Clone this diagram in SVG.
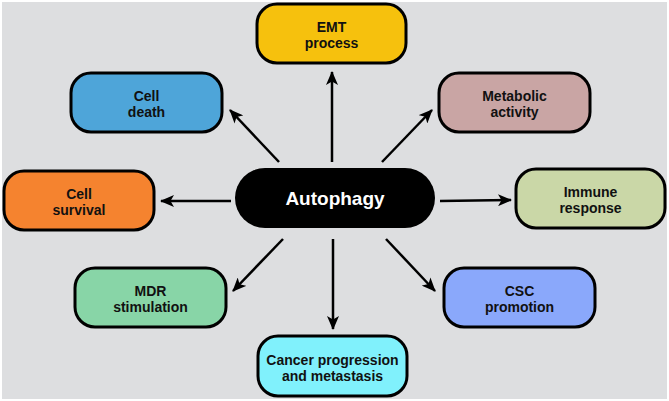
<svg xmlns="http://www.w3.org/2000/svg" width="669" height="401" viewBox="0 0 669 401">
<defs>
<style>
.node rect{stroke:#000;stroke-width:3}
.lbl{font-family:"Liberation Sans",Arial,sans-serif;font-weight:bold;font-size:14px;fill:#111;text-anchor:middle}
.conn line{stroke:#000;stroke-width:2.5;marker-end:url(#ah)}
</style>
<marker id="ah" markerUnits="userSpaceOnUse" viewBox="0 0 14 12" refX="13" refY="6" markerWidth="14" markerHeight="12" orient="auto">
<path d="M0,0 L14,6 L0,12 L3.5,6 Z" fill="#000"/>
</marker>
</defs>
<rect x="0" y="0" width="669" height="401" fill="#ffffff"/>
<rect x="2" y="2" width="665" height="397" fill="#dddee0"/>
<g class="conn">
<line x1="332" y1="162" x2="332" y2="72"/>
<line x1="279" y1="162" x2="230" y2="110"/>
<line x1="382" y1="162" x2="432" y2="110"/>
<line x1="231" y1="201" x2="161" y2="201"/>
<line x1="440" y1="201" x2="511" y2="200"/>
<line x1="283" y1="239" x2="233" y2="291"/>
<line x1="333" y1="239" x2="333" y2="329"/>
<line x1="386" y1="239" x2="435" y2="291"/>
</g>
<g id="autophagy">
<rect x="235" y="168" width="200" height="60" rx="30" fill="#000"/>
<text x="335" y="204.5" font-family="Liberation Sans, Arial, sans-serif" font-weight="bold" font-size="19" fill="#fff" text-anchor="middle">Autophagy</text>
</g>
<g id="emt" class="node">
<rect x="257" y="4" width="149" height="59" rx="20" fill="#f6c10d"/>
<text class="lbl" x="331.5" y="31.5">EMT</text>
<text class="lbl" x="331.5" y="47.5">process</text>
</g>
<g id="cell-death" class="node">
<rect x="71" y="73" width="151" height="59" rx="20" fill="#4ea5d9"/>
<text class="lbl" x="146.5" y="101">Cell</text>
<text class="lbl" x="146.5" y="117">death</text>
</g>
<g id="metabolic" class="node">
<rect x="439" y="73" width="151" height="59" rx="20" fill="#c9a5a4"/>
<text class="lbl" x="514.5" y="101">Metabolic</text>
<text class="lbl" x="514.5" y="117">activity</text>
</g>
<g id="cell-survival" class="node">
<rect x="4" y="171" width="150" height="59" rx="20" fill="#f5832f"/>
<text class="lbl" x="79" y="199">Cell</text>
<text class="lbl" x="79" y="215">survival</text>
</g>
<g id="immune" class="node">
<rect x="516" y="169" width="149" height="59" rx="20" fill="#cad7a7"/>
<text class="lbl" x="590.5" y="197">Immune</text>
<text class="lbl" x="590.5" y="213">response</text>
</g>
<g id="mdr" class="node">
<rect x="75" y="268" width="151" height="59" rx="20" fill="#88d5a7"/>
<text class="lbl" x="150.5" y="296">MDR</text>
<text class="lbl" x="150.5" y="312">stimulation</text>
</g>
<g id="csc" class="node">
<rect x="444" y="268" width="151" height="59" rx="20" fill="#8aa8fb"/>
<text class="lbl" x="519.5" y="296">CSC</text>
<text class="lbl" x="519.5" y="312">promotion</text>
</g>
<g id="cancer" class="node">
<rect x="258" y="336" width="149" height="60" rx="20" fill="#80f1fc"/>
<text class="lbl" x="332.5" y="364.5">Cancer progression</text>
<text class="lbl" x="332.5" y="380.5">and metastasis</text>
</g>
</svg>
